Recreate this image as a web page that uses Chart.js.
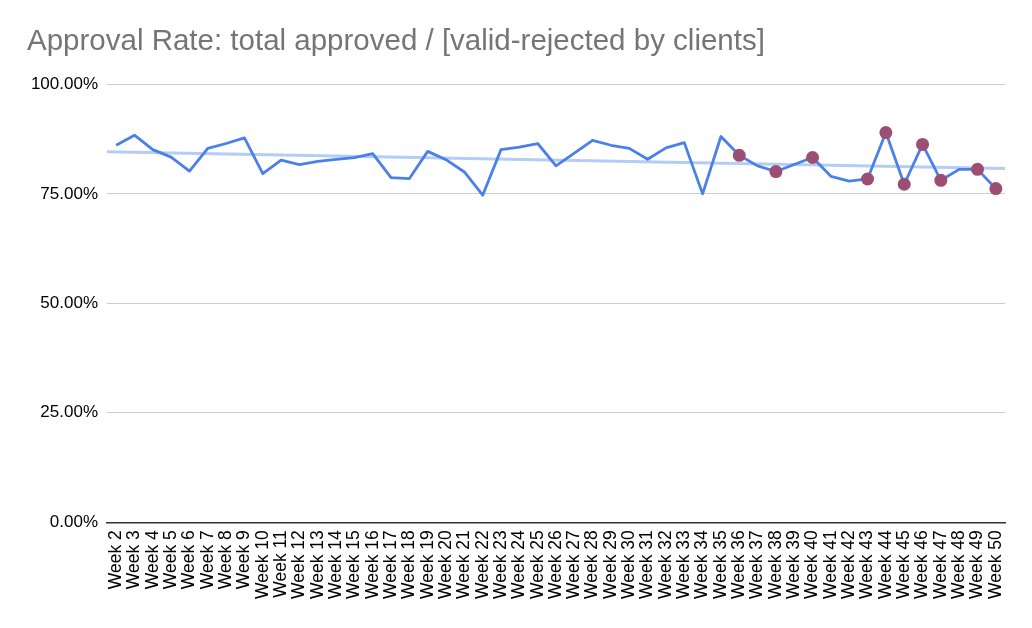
<!DOCTYPE html>
<html>
<head>
<meta charset="utf-8">
<script src="https://cdn.jsdelivr.net/npm/chart.js@4"></script>
<style>
  html, body { margin: 0; padding: 0; background: #ffffff; }
  #wrap { width: 1032px; height: 628px; position: relative; }
</style>
</head>
<body>
<div id="wrap"><canvas id="c" width="1032" height="628"></canvas></div>
<script>
const chartTitle = 'Approval Rate: total approved / [valid-rejected by clients]';
const weeks = ['Week 2','Week 3','Week 4','Week 5','Week 6','Week 7','Week 8','Week 9','Week 10','Week 11',
  'Week 12','Week 13','Week 14','Week 15','Week 16','Week 17','Week 18','Week 19','Week 20','Week 21',
  'Week 22','Week 23','Week 24','Week 25','Week 26','Week 27','Week 28','Week 29','Week 30','Week 31',
  'Week 32','Week 33','Week 34','Week 35','Week 36','Week 37','Week 38','Week 39','Week 40','Week 41',
  'Week 42','Week 43','Week 44','Week 45','Week 46','Week 47','Week 48','Week 49','Week 50'];
const approvalRate = [86.1, 88.4, 85.1, 83.4, 80.2, 85.4, 86.5, 87.8, 79.6, 82.7,
  81.7, 82.4, 82.9, 83.3, 84.2, 78.7, 78.5, 84.7, 82.8, 80.0,
  74.7, 85.1, 85.7, 86.5, 81.4, 84.3, 87.2, 86.1, 85.4, 82.9,
  85.5, 86.7, 75.0, 88.1, 83.8, 81.4, 80.1, 81.7, 83.3, 79.0,
  77.9, 78.4, 89.0, 77.2, 86.3, 78.1, 80.6, 80.6, 76.2];
const flaggedWeeks = ['Week 36','Week 38','Week 40','Week 43','Week 44','Week 45','Week 46','Week 47','Week 49','Week 50'];
const trendX = [-0.5, 48.5];
const trendY = [84.6, 80.8];
const yTicks = [0, 25, 50, 75, 100];

const flaggedData = weeks.map((w, i) => flaggedWeeks.includes(w) ? approvalRate[i] : null);

new Chart(document.getElementById('c'), {
  type: 'line',
  data: {
    labels: weeks,
    datasets: [
      {
        label: 'Flagged',
        data: flaggedData,
        showLine: false,
        pointRadius: 6.5,
        pointHoverRadius: 6.5,
        pointBackgroundColor: '#9b4f73',
        pointBorderColor: '#9b4f73',
        borderWidth: 0,
        order: 0
      },
      {
        label: 'Approval Rate',
        data: approvalRate,
        borderColor: '#4a80e8',
        borderWidth: 2.8,
        borderJoinStyle: 'round',
        pointRadius: 0,
        tension: 0,
        fill: false,
        order: 1
      },
      {
        label: 'Trend',
        data: trendX.map((x, i) => ({ x: x, y: trendY[i] })),
        xAxisID: 'xTrend',
        borderColor: '#b3cdf6',
        borderWidth: 3,
        pointRadius: 0,
        tension: 0,
        fill: false,
        order: 2
      }
    ]
  },
  options: {
    responsive: false,
    animation: false,
    events: [],
    layout: { padding: { left: 27, right: 27, top: 4, bottom: 21 } },
    plugins: {
      legend: { display: false },
      tooltip: { enabled: false },
      title: {
        display: true,
        text: chartTitle,
        align: 'start',
        color: '#757575',
        font: { family: 'Liberation Sans, Arial, sans-serif', size: 29.5, weight: 'normal' },
        padding: { top: 20, bottom: 25 }
      }
    },
    scales: {
      x: {
        type: 'category',
        offset: true,
        grid: { display: false, drawTicks: false },
        border: { display: true, color: '#333333', width: 1.5 },
        ticks: {
          color: '#000000',
          font: { family: 'Liberation Sans, Arial, sans-serif', size: 17.5 },
          minRotation: 90,
          maxRotation: 90,
          autoSkip: false,
          padding: 8
        }
      },
      xTrend: {
        type: 'linear',
        display: false,
        min: -0.5,
        max: 48.5
      },
      y: {
        min: 0,
        max: 100,
        afterBuildTicks: (axis) => { axis.ticks = yTicks.map(v => ({ value: v })); },
        afterFit: (axis) => { axis.width = 80; },
        grid: { color: '#cccccc', lineWidth: 1, drawTicks: false },
        border: { display: false },
        ticks: {
          color: '#000000',
          font: { family: 'Liberation Sans, Arial, sans-serif', size: 17 },
          padding: 9,
          callback: (v) => v.toFixed(2) + '%'
        }
      }
    }
  }
});
</script>
</body>
</html>
